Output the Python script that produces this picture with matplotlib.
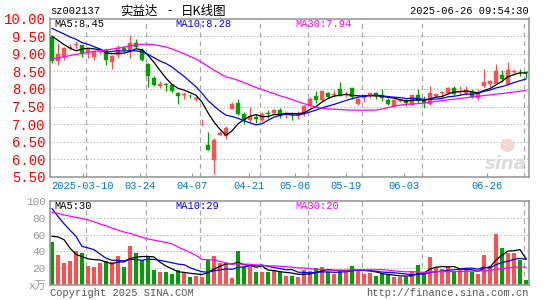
import numpy as np
import pandas as pd
import matplotlib
matplotlib.use("Agg")
import matplotlib.pyplot as plt
from matplotlib.patches import Ellipse

# closes / volumes of the 29 days before the window (guessed from where the MA lines start)
pre_close = [8.15, 8.20, 8.10, 8.25, 8.30, 8.18, 8.22, 8.35, 8.28, 8.20,
             8.30, 8.25, 8.32, 8.28, 8.30, 8.32, 8.60, 8.95, 9.20, 9.55,
             9.80, 9.95, 10.05, 9.92, 9.98, 9.60, 9.76, 9.70, 9.66]
pre_vol = [75, 82, 70, 85, 78, 72, 90, 105, 95, 110,
           100, 92, 98, 105, 100, 95, 60, 55, 62, 58,
           130, 112, 105, 114, 159, 40, 42, 78, 79]

# daily candles, 2025-02-28 .. 2025-06-26
open_ = [9.47, 8.78, 8.91, 9.17, 9.24, 9.24, 9.06, 8.91, 9.05, 9.10,
         8.76, 8.95, 9.17, 9.07, 9.31, 9.11, 8.72, 8.31, 8.07, 8.14,
         8.10, 7.88, 7.82, 7.81, 7.71, 6.97, 6.40, 5.99, 6.70, 6.65,
         7.44, 7.61, 7.30, 7.11, 7.20, 7.13, 7.31, 7.33, 7.39, 7.26,
         7.29, 7.22, 7.30, 7.55, 7.80, 7.68, 7.89, 7.84, 8.01, 7.82,
         8.04, 7.58, 7.74, 7.80, 7.89, 7.82, 7.70, 7.51, 7.66, 7.68,
         7.55, 7.82, 7.66, 7.58, 7.79, 7.88, 7.89, 8.03, 7.92, 7.89,
         7.91, 7.74, 8.07, 8.15, 8.15, 8.40, 8.15, 8.47, 8.49, 8.48]
high = [9.50, 9.31, 9.18, 9.27, 9.35, 9.26, 9.14, 9.09, 9.12, 9.12,
        8.95, 9.26, 9.21, 9.52, 9.41, 9.16, 8.74, 8.36, 8.22, 8.18,
        8.13, 7.90, 7.91, 7.86, 7.80, 7.15, 6.78, 6.60, 6.80, 6.95,
        7.62, 7.72, 7.34, 7.49, 7.30, 7.34, 7.40, 7.43, 7.45, 7.35,
        7.35, 7.36, 7.55, 7.77, 7.93, 7.95, 7.91, 7.97, 8.19, 7.93,
        8.04, 7.77, 7.82, 7.89, 7.91, 7.99, 7.74, 7.72, 7.72, 7.72,
        7.82, 7.99, 7.79, 8.07, 7.87, 7.94, 8.06, 8.08, 8.08, 8.08,
        7.99, 7.99, 8.57, 8.24, 8.71, 8.53, 8.76, 8.56, 8.56, 8.50]
low = [8.74, 8.67, 8.81, 9.11, 9.14, 8.91, 8.87, 8.81, 8.98, 8.67,
       8.58, 8.88, 9.08, 8.89, 9.17, 8.78, 8.05, 8.08, 8.03, 7.95,
       7.91, 7.57, 7.72, 7.75, 7.65, 6.97, 6.26, 5.58, 6.68, 6.58,
       7.42, 7.26, 7.01, 7.06, 7.02, 7.05, 7.18, 7.30, 7.18, 7.18,
       7.12, 7.14, 7.23, 7.49, 7.61, 7.65, 7.74, 7.78, 7.79, 7.78,
       7.72, 7.55, 7.62, 7.74, 7.72, 7.67, 7.54, 7.51, 7.62, 7.51,
       7.53, 7.61, 7.46, 7.53, 7.77, 7.77, 7.87, 7.83, 7.82, 7.84,
       7.75, 7.68, 8.05, 8.05, 8.14, 8.21, 8.14, 8.40, 8.37, 8.31]
close = [8.78, 9.00, 9.16, 9.20, 9.27, 9.03, 9.12, 9.07, 9.08, 8.81,
         8.93, 9.16, 9.11, 9.30, 9.19, 8.81, 8.37, 8.10, 8.15, 8.10,
         7.94, 7.80, 7.85, 7.79, 7.73, 6.97, 6.28, 6.54, 6.74, 6.90,
         7.58, 7.29, 7.13, 7.22, 7.14, 7.29, 7.30, 7.41, 7.24, 7.29,
         7.27, 7.29, 7.51, 7.72, 7.70, 7.93, 7.77, 7.87, 7.82, 7.85,
         7.77, 7.72, 7.82, 7.89, 7.80, 7.74, 7.56, 7.70, 7.68, 7.61,
         7.82, 7.65, 7.61, 7.89, 7.87, 7.90, 8.03, 7.87, 7.94, 7.98,
         7.77, 7.89, 8.19, 8.22, 8.50, 8.29, 8.53, 8.50, 8.47, 8.45]
volume = [51, 36, 26, 28, 41, 38, 23, 21, 26, 29,
          27, 34, 21, 46, 38, 30, 35, 18, 15, 15,
          13, 18, 14, 10, 11, 9, 30, 35, 26, 26,
          8, 40, 21, 22, 15, 15, 16, 18, 15, 11,
          11, 9, 18, 17, 20, 21, 16, 13, 17, 17,
          23, 17, 13, 14, 11, 13, 12, 9, 9, 10,
          15, 24, 13, 33, 21, 19, 22, 15, 19, 18,
          16, 13, 36, 23, 61, 44, 38, 38, 30, 6]

holidays = ["2025-04-04", "2025-05-01", "2025-05-02", "2025-05-05", "2025-06-02"]
tick_dates = ["2025-03-10", "2025-03-24", "2025-04-07", "2025-04-21",
              "2025-05-06", "2025-05-19", "2025-06-03", "2025-06-26"]
tick_labels = ["2025-03-10", "03-24", "04-07", "04-21", "05-06", "05-19", "06-03", "06-26"]
price_ticks = [5.5, 6.0, 6.5, 7.0, 7.5, 8.0, 8.5, 9.0, 9.5, 10.0]
vol_ticks = [20, 40, 60, 80, 100]
title_parts = ["实益达", "-", "日K线图"]
ma_text = ["MA5:8.45", "MA10:8.28", "MA30:7.94"]
vma_text = ["MA5:30", "MA10:29", "MA30:20"]
ma_colors = ["black", "#0000ff", "#ff00ff"]

days = pd.bdate_range("2025-02-28", "2025-06-26")
days = days[~days.isin(pd.to_datetime(holidays))]
x = np.arange(len(days))
tick_idx = np.array([days.get_loc(pd.Timestamp(d)) for d in tick_dates])
label_x = np.minimum(tick_idx * 0.955 - 0.6, 72.5)

o = np.array(open_)
c = np.array(close)
up = c >= o
RED, GREEN = "#ff5050", "#00a000"
cols = np.where(up, RED, GREEN)

def ma(pre, vals, n):
    s = pd.Series(list(pre) + list(vals)).rolling(n).mean().values
    return s[-len(vals):]

mono = "Liberation Mono"
W, H = 545, 300
fig = plt.figure(figsize=(W / 100, H / 100), dpi=100)

def fx(px):
    return px / W

def fy(py):
    return 1 - py / H

GRID = "#aaaaaa"

# price panel
ax = fig.add_axes([fx(50), fy(177), fx(479), 158.5 / H])
ax.set_xlim(-0.33, 79.5)
ax.set_ylim(5.5, 10.0)
for p in price_ticks[1:-1]:
    ax.axhline(p, color=GRID, ls=(0, (1, 2)), lw=0.8, zorder=0)
for t in tick_idx:
    ax.axvline(t - 0.25, color=GRID, ls=(0, (4, 3)), lw=0.9, zorder=0)

ax.vlines(x, low, high, colors=cols, lw=0.9, zorder=2)
body = np.maximum(np.abs(c - o), 0.012)
ax.bar(x, body, bottom=np.minimum(o, c), width=0.75, color=cols, edgecolor=cols,
       linewidth=0.3, zorder=3)

for n, col in zip([5, 10, 30], ma_colors):
    ax.plot(x, ma(pre_close, close, n), color=col, lw=0.9, zorder=4)

ax.set_yticks(price_ticks)
ax.set_yticklabels(["%.2f" % p for p in price_ticks], color="red", fontsize=10, family=mono)
ax.set_xticks(label_x)
ax.set_xticklabels(tick_labels, color="#0077cc", fontsize=7.5, family=mono)
ax.tick_params(axis="y", length=0, pad=3)
ax.tick_params(axis="x", direction="in", length=3, color="#999999", pad=3)
for s in ax.spines.values():
    s.set_color("#999999")
    s.set_linewidth(1.2)

# faint sina watermark
ax.add_patch(Ellipse((0.955, 0.2), 0.03, 0.085, transform=ax.transAxes,
                     facecolor="#f4d6d6", edgecolor="none", zorder=1))
ax.text(0.995, 0.085, "sina", transform=ax.transAxes, ha="right", va="center",
        fontsize=13, fontweight="bold", style="italic", color="#dcdcdc", zorder=1)

# volume panel
ax2 = fig.add_axes([fx(50), fy(285), fx(479), 84 / H])
ax2.set_xlim(-0.33, 79.5)
ax2.set_ylim(0, 100)
for v in vol_ticks[:-1]:
    ax2.axhline(v, color=GRID, ls=(0, (1, 2)), lw=0.8, zorder=0)
for t in tick_idx:
    ax2.axvline(t - 0.25, color=GRID, ls=(0, (4, 3)), lw=0.9, zorder=0)
ax2.bar(x, volume, width=0.8, color=cols, zorder=2)
for n, col in zip([5, 10, 30], ma_colors):
    ax2.plot(x, ma(pre_vol, volume, n), color=col, lw=0.9, zorder=4)
ax2.set_yticks([0] + vol_ticks)
ax2.set_yticklabels(["x万"] + [str(v) for v in vol_ticks], color="#999999", fontsize=8,
                    family=[mono, "Noto Sans CJK SC"])
ax2.set_xticks([])
ax2.tick_params(axis="y", length=0, pad=3)
for s in ax2.spines.values():
    s.set_color("#999999")
    s.set_linewidth(1.2)

# texts
cjk = ["Noto Sans CJK SC", "DejaVu Sans"]
fig.text(fx(50), fy(11), "sz002137", fontsize=7.5, family=mono, va="center")
for t, px in zip(title_parts, [120, 167, 181]):
    fig.text(fx(px), fy(11), t, fontsize=9, family=cjk, va="center")
fig.text(fx(529), fy(11), "2025-06-26 09:54:30", fontsize=7.5, family=mono,
         va="center", ha="right")
for t, col, px in zip(ma_text, ma_colors, [54, 175, 295]):
    fig.text(fx(px), fy(24), t, color=col, fontsize=7.5, family=mono, va="center")
for t, col, px in zip(vma_text, ma_colors, [54, 175, 295]):
    fig.text(fx(px), fy(206), t, color=col, fontsize=7.5, family=mono, va="center")
fig.text(fx(50), fy(293), "Copyright 2025 SINA.COM", fontsize=7.5, family=mono,
         color="#555555", va="center")
fig.text(fx(529), fy(293), "http://finance.sina.com.cn", fontsize=7.5, family=mono,
         color="#555555", va="center", ha="right")

fig.savefig("out.png", dpi=100)
